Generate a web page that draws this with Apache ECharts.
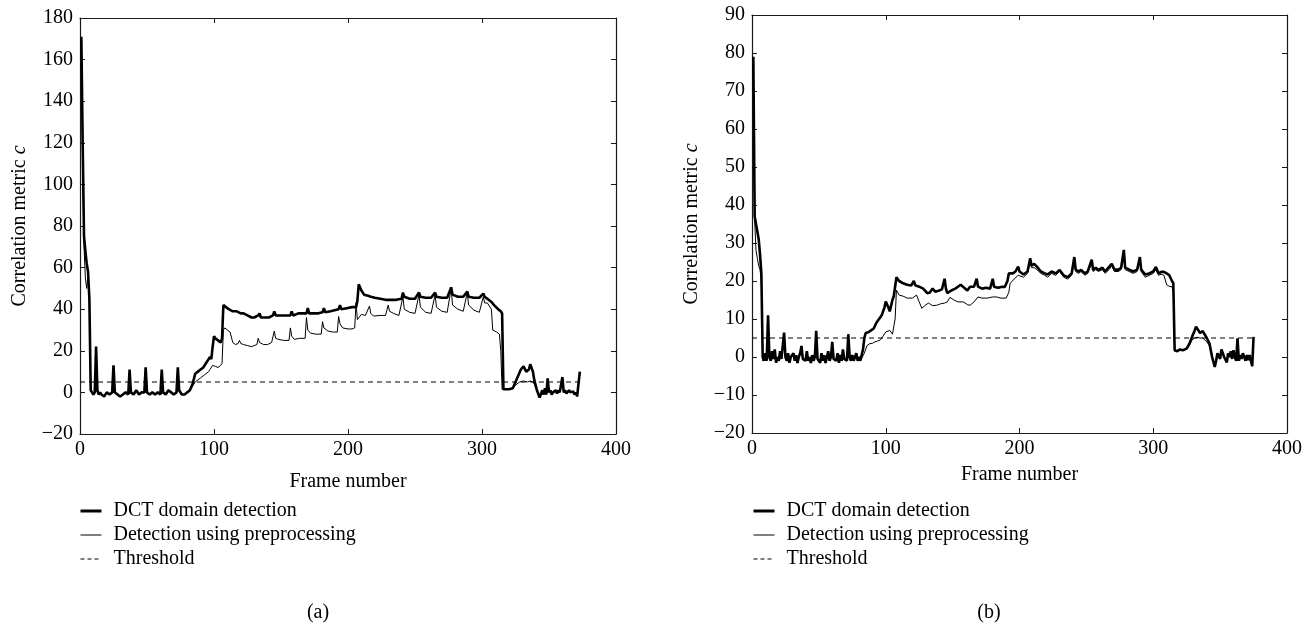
<!DOCTYPE html>
<html>
<head>
<meta charset="utf-8">
<title>Correlation metric</title>
<script src="https://cdn.jsdelivr.net/npm/echarts@6/dist/echarts.min.js"></script>
<style>
  html, body { margin: 0; padding: 0; background: #fff; }
  #chart { width: 1305px; height: 641px; }
</style>
</head>
<body>
<div id="chart"></div>
<script>
// values, [frame, c]

// (a)
const dctA = [[1,171],[2,120],[3,75],[4,68],[5,62],[6,58],[7,45],[8,1],[9,0],[10,-1],[11,0],[12,22],[13,1],[14,-1],[15,0],[16,-1],[18,-2],[20,0],[22,-1],[24,0],[25,13],[26,0],[28,-1],[30,-2],[32,-1],[34,0],[36,-1],[37,11],[38,0],[40,-1],[42,1],[44,-1],[46,0],[48,0],[49,12],[50,0],[52,-1],[54,0],[56,-1],[58,0],[60,-1],[61,11],[62,0],[64,-1],[66,1],[68,0],[70,-1],[72,0],[73,12],[74,1],[76,-1],[78,-1],[80,0],[82,1],[84,4],[86,9],[88,10],[90,11],[92,12],[94,14],[96,16],[97,17],[98,16],[99,22],[100,27],[101,26],[103,25],[105,24],[106,26],[107,42],[109,41],[111,40],[114,39],[117,39],[120,38],[122,38],[125,37],[128,36],[130,36],[133,37],[134,38],[135,36],[138,36],[141,36],[144,37],[145,39],[146,37],[150,37],[154,37],[157,37],[158,39],[159,37],[163,38],[166,38],[169,38],[170,40.5],[171,38],[175,38],[178,38],[181,38.5],[182,40.5],[183,38.5],[187,39],[190,39.5],[193,40],[194,42],[195,40],[199,40.5],[203,41],[206,41],[207,44],[208,52],[210,49],[212,47],[215,46.5],[217,46],[220,45.5],[224,45],[228,44.5],[232,44.5],[236,44.5],[240,45],[241,48],[242,46],[246,45],[250,45],[253,48],[254,46],[258,45.5],[262,45.5],[265,48],[266,46],[270,45.5],[274,45.5],[277,50.5],[278,47],[282,46],[286,46],[289,48.5],[290,46],[294,45.5],[298,45.5],[301,47.5],[302,46],[304,45],[307,43.5],[309,42],[312,40],[314,39],[315,38],[316,1.5],[320,1.5],[323,2],[325,5],[327,8],[329,11],[331,12.5],[333,10],[335,11],[336,13.5],[338,10],[339,6],[341,1],[343,-2.5],[345,1],[346,-1],[347,2],[348,-1],[349,6.8],[350,0],[351,1],[352,-1],[353,0],[355,1],[356,-0.5],[357,1],[358,0],[360,7.4],[361,0],[362,1],[363,-0.5],[365,1],[366,0],[368,0.5],[369,-1],[370,0],[371,-1.9],[372,-1],[373,10]];
const preA = [[1,165],[2,110],[3,70],[4,55],[5,50],[6,57],[7,44],[8,1],[9,0],[10,-1],[11,0],[12,1],[13,0],[14,-1],[16,-1],[18,-2],[20,0],[22,-1],[24,0],[26,0],[28,-1],[30,-2],[32,-1],[34,0],[36,-1],[38,0],[40,-1],[42,1],[44,-1],[46,0],[48,0],[50,0],[52,-1],[54,0],[56,-1],[58,0],[60,-1],[62,0],[64,-1],[66,1],[68,0],[70,-1],[72,0],[74,1],[76,-1],[78,-1],[80,0],[82,1],[84,3],[86,5],[88,6],[90,7],[92,8],[94,9],[96,10],[97,11],[99,13],[101,12.5],[103,12],[105,13],[106,14],[107,30],[108,31],[110,30],[112,29],[114,24],[116,23],[118,23.5],[119,25],[120,23.5],[122,23],[125,22.5],[128,22],[130,22.5],[132,23],[133,26],[134,24],[137,23],[140,23],[143,24],[145,29.5],[146,26],[148,25.5],[152,25],[156,25],[157,31],[158,27],[160,25.5],[164,26],[168,26],[169,36],[170,30],[172,28.5],[176,28],[180,28],[181,34],[182,31],[185,29.5],[189,29],[192,29],[193,36.5],[194,33],[196,31],[200,30.5],[203,30.5],[205,31],[206,43],[207,35],[210,37.5],[213,37],[216,41.5],[217,38],[219,36.7],[224,37],[228,37],[230,42],[231,39],[234,38],[238,37],[241,46],[242,40],[246,38.5],[250,38],[253,47],[254,41],[258,38.5],[262,38],[265,47],[266,41],[270,39],[274,38.5],[277,50],[278,42],[282,40],[286,39],[289,48],[290,42],[294,39.5],[298,38.5],[301,46],[302,43],[304,43],[307,40],[308,30],[311,29],[313,28],[314,20],[315,1.5],[320,1.5],[323,2],[325,3.5],[328,5],[331,5.5],[334,5],[336,5.5],[338,5],[339,4],[341,1],[343,-2.5],[345,1],[346,-1],[347,2],[348,-1],[349,5],[350,0],[351,1],[352,-1],[353,0],[355,1],[356,-0.5],[357,1],[358,0],[360,6],[361,0],[362,1],[363,-0.5],[365,1],[366,0],[368,0.5],[369,-1],[370,0],[371,-1.9],[372,-1],[373,9]];
const thrA = [[0,5],[373,5]];

// (b)
const dctB = [[1,79],[2,37],[3,35],[4,33],[5,31],[6,27],[7,22],[8,0],[9,-1],[10,1],[11,-1],[12,11],[13,0],[14,-1],[15,1.5],[16,-0.5],[17,2],[18,-1.5],[19,0],[20,-1],[21,1.5],[22,-0.5],[23,0],[24,6.4],[25,0],[26,-1],[27,1],[28,-1.5],[29,0],[30,-0.5],[31,1],[32,-1],[33,0.5],[34,-1.6],[35,0],[36,1],[37,2.9],[38,-0.5],[39,0],[40,-1],[41,1.5],[42,-1],[43,0],[44,-1.6],[45,0.5],[46,-1],[47,0],[48,6.9],[49,-0.5],[50,0],[51,-1.5],[52,1],[53,-1],[54,0.5],[55,-1.6],[56,0],[57,1.5],[58,-1],[59,0],[60,4],[61,-0.5],[62,0],[63,-1],[64,1],[65,-1.5],[66,0.5],[67,-1],[68,2],[69,-0.5],[70,0],[71,-1],[72,6],[73,0],[74,-1],[75,0.5],[76,-1],[77,0],[78,1],[79,-1],[80,0],[81,-1],[82,-1],[83,2],[84,5],[85,6.3],[87,6.5],[89,7],[91,7.5],[93,9],[95,10],[97,11],[99,13],[100,14.6],[102,13],[103,12],[105,15],[106,16],[108,21],[110,20],[113,19.4],[116,19],[119,18.8],[121,20],[122,18.9],[125,18.5],[128,18],[131,16.8],[133,17],[135,18],[137,17.2],[140,17.5],[142,17.8],[144,20.6],[145,18],[146,16.8],[149,17.5],[152,18],[156,19],[158,18.4],[161,17.5],[163,18.5],[166,18.5],[168,20.6],[169,18.5],[172,18],[175,18.2],[178,18],[180,20.6],[181,18.5],[184,18.2],[187,18.5],[189,18.4],[191,20],[192,22],[195,22],[197,22.5],[199,23.8],[200,22.5],[203,21.7],[206,22.5],[208,26],[209,24],[211,24.5],[213,23.8],[216,22.5],[219,22],[221,21.7],[224,22.5],[227,22],[230,22.9],[233,21.5],[236,21],[239,22],[241,26.3],[242,23],[244,22.5],[246,22.9],[249,22],[251,22.5],[254,25.6],[255,23],[257,23.5],[259,22.9],[262,23.5],[264,22.5],[267,23.7],[269,24.5],[271,23],[274,23],[276,23.5],[278,28.2],[279,23.5],[282,23],[285,22.5],[288,23],[290,26.3],[291,23],[294,21.7],[297,22],[300,22.5],[302,23.7],[304,22],[306,22.4],[308,22.4],[310,22],[312,21.5],[314,20],[315,19.4],[316,1.8],[318,1.5],[320,2],[322,1.8],[325,2.2],[327,3.5],[329,5.3],[331,7],[332,8],[333,7.5],[335,6.3],[337,6.8],[338,7.1],[340,5],[342,3.6],[344,0],[346,-2.6],[347,-1],[348,1],[350,-0.5],[351,2],[352,2.2],[353,0],[355,-1.4],[356,1],[357,0],[358,1.5],[359,-0.5],[360,1.8],[361,0],[362,-1],[363,4.9],[364,-1],[365,0.5],[366,-0.5],[367,1],[368,1],[369,-1],[370,0.5],[371,-0.8],[372,0.5],[373,-1],[374,-2.4],[375,5.3]];
const preB = [[1,75],[2,36],[3,28],[4,26],[5,24],[6,23],[7,20],[8,-1],[9,-1],[10,0.5],[11,-1],[12,9],[13,0],[14,-1],[15,1],[16,-0.5],[17,1.5],[18,-1.5],[19,0],[20,-1],[21,1],[22,-0.5],[23,0],[24,5.5],[25,0],[26,-1],[27,0.5],[28,-1.5],[29,0],[30,-0.5],[31,1],[32,-1],[33,0.5],[34,-1.6],[35,0],[36,1],[37,2.5],[38,-0.5],[39,0],[40,-1],[41,1],[42,-1],[43,0],[44,-1.6],[45,0.5],[46,-1],[47,0],[48,6],[49,-0.5],[50,0],[51,-1.5],[52,1],[53,-1],[54,0.5],[55,-1.6],[56,0],[57,1],[58,-1],[59,0],[60,3.5],[61,-0.5],[62,0],[63,-1],[64,1],[65,-1.5],[66,0.5],[67,-1],[68,1.5],[69,-0.5],[70,0],[71,-1],[72,5],[73,0],[74,-1],[75,0.5],[76,-1],[77,0],[78,1],[79,-1],[80,0],[81,-1],[82,-1],[84,1],[86,3],[88,3.5],[90,3.6],[92,4],[94,4.2],[96,4.5],[98,5.5],[100,6.6],[103,7],[105,6],[106,5.8],[107,10],[108,17.6],[110,16.3],[113,16],[116,15.5],[120,15.5],[123,16.3],[125,14.5],[127,12.8],[129,13.5],[132,14.2],[135,13.5],[138,13.6],[141,14],[144,14.2],[146,14.5],[148,15.7],[151,15],[154,14.5],[158,14.5],[161,13.8],[163,13.6],[166,14.5],[169,15.8],[172,15.5],[176,15.5],[180,15.8],[183,15.8],[186,15.5],[190,15.5],[192,17],[193,19.4],[196,20.5],[199,21.5],[200,21],[203,21],[206,22],[208,25],[209,23.5],[211,23.5],[213,23],[216,22],[219,21.5],[221,21],[224,22],[227,21.5],[230,22.5],[233,21],[236,20.5],[239,21.5],[241,25.5],[242,22.5],[244,22],[246,22.5],[249,21.5],[251,22],[254,25],[255,22.5],[257,23],[259,22.5],[262,23],[264,22],[267,23],[269,24],[271,22.5],[274,22.5],[276,23],[278,27.5],[279,23],[282,22.5],[285,22],[288,22.5],[290,25.5],[291,22.5],[294,21],[297,21.5],[300,22],[302,23],[304,21.5],[306,21.8],[308,21.5],[310,19],[312,18.6],[314,18.5],[315,17],[316,1.5],[318,1.5],[320,1.8],[322,1.8],[325,2],[327,3],[329,4.5],[331,5],[333,5.2],[335,5],[337,5],[338,5],[340,4],[342,3],[344,0],[346,-2.6],[347,-1],[348,1],[350,-0.5],[351,1.5],[352,2],[353,0],[355,-1.4],[356,1],[357,0],[358,1.5],[359,-0.5],[360,1.5],[361,0],[362,-1],[363,4],[364,-1],[365,0.5],[366,-0.5],[367,1],[368,1],[369,-1],[370,0.5],[371,-0.8],[372,0.5],[373,-1],[374,-2.4],[375,4.5]];
const thrB = [[0,5],[375,5]];

const names = ['DCT domain detection', 'Detection using preprocessing', 'Threshold'];
const captions = ['(a)', '(b)'];
const font = '"Liberation Serif", "DejaVu Serif", serif';
const ink = '#000';
const dash = [5, 4];

const chart = echarts.init(document.getElementById('chart'));

// one plot box: bottom/left axes carry labels, top/right only close the box with ticks
function axesFor(grid, yMin, yMax, yStep, xNameGap) {
  const line = { show: true, onZero: false, lineStyle: { color: '#1a1a1a', width: 1.2 } };
  const tick = { show: true, inside: true, length: 5, lineStyle: { color: '#1a1a1a', width: 1 } };
  const x = [
    {
      type: 'value', gridIndex: grid, position: 'bottom', min: 0, max: 400, interval: 100,
      axisLine: line, axisTick: tick, splitLine: { show: false },
      axisLabel: { color: ink, fontFamily: font, fontSize: 20, margin: 6 },
      name: 'Frame number', nameLocation: 'middle', nameGap: xNameGap,
      nameTextStyle: { color: ink, fontFamily: font, fontSize: 20 }
    },
    {
      type: 'value', gridIndex: grid, position: 'top', min: 0, max: 400, interval: 100,
      axisLine: line, axisTick: tick, axisLabel: { show: false }, splitLine: { show: false }
    }
  ];
  const y = [
    {
      type: 'value', gridIndex: grid, position: 'left', min: yMin, max: yMax, interval: yStep,
      axisLine: line, axisTick: tick, splitLine: { show: false },
      axisLabel: {
        color: ink, fontFamily: font, fontSize: 20, margin: 7,
        formatter: v => String(v).replace('-', '\u2212')
      },
      name: 'Correlation metric {i|c}', nameLocation: 'middle', nameGap: 50, nameRotate: 90,
      nameTextStyle: {
        color: ink, fontFamily: font, fontSize: 20,
        rich: { i: { fontStyle: 'italic', fontFamily: font, fontSize: 20, color: ink } }
      }
    },
    {
      type: 'value', gridIndex: grid, position: 'right', min: yMin, max: yMax, interval: yStep,
      axisLine: line, axisTick: tick, axisLabel: { show: false }, splitLine: { show: false }
    }
  ];
  return { x, y };
}

const axA = axesFor(0, -20, 180, 20, 38);
const axB = axesFor(1, -20, 90, 10, 32);

function seriesFor(axisIdx, dct, pre, thr) {
  const base = { type: 'line', xAxisIndex: axisIdx, yAxisIndex: axisIdx, symbol: 'none', showSymbol: false, animation: false };
  return [
    { ...base, name: names[2], data: thr, lineStyle: { color: ink, width: 1.1, type: dash }, itemStyle: { color: ink } },
    { ...base, name: names[0], data: dct, lineStyle: { color: ink, width: 2.6 }, itemStyle: { color: ink } },
    { ...base, name: names[1], data: pre, lineStyle: { color: ink, width: 1 }, itemStyle: { color: ink } }
  ];
}

function legendAt(left, top) {
  return {
    data: [
      { name: names[0], lineStyle: { width: 3, color: ink } },
      { name: names[1], lineStyle: { width: 1, color: ink } },
      { name: names[2], lineStyle: { width: 1, color: ink, type: [4, 3] } }
    ],
    orient: 'vertical', left, top, padding: 0,
    itemWidth: 21, itemHeight: 14, itemGap: 4,
    selectedMode: false,
    itemStyle: { opacity: 0 },
    textStyle: { color: ink, fontFamily: font, fontSize: 20, lineHeight: 20, padding: [0, 0, 0, 7] }
  };
}

function caption(text, x) {
  return { type: 'text', x, y: 613, style: { text, fill: ink, font: '20px ' + font, textAlign: 'center', textVerticalAlign: 'middle' } };
}

chart.setOption({
  animation: false,
  backgroundColor: '#fff',
  grid: [
    { left: 80, top: 18, width: 536, height: 416 },
    { left: 752, top: 15, width: 539, height: 418 }
  ],
  xAxis: [...axA.x, ...axB.x],
  yAxis: [...axA.y, ...axB.y],
  legend: [legendAt(79, 501), legendAt(752, 501)],
  graphic: [caption(captions[0], 318), caption(captions[1], 989)],
  series: [
    ...seriesFor(0, dctA, preA, thrA),
    ...seriesFor(2, dctB, preB, thrB)
  ]
});

window.addEventListener('resize', () => chart.resize());
</script>
</body>
</html>
